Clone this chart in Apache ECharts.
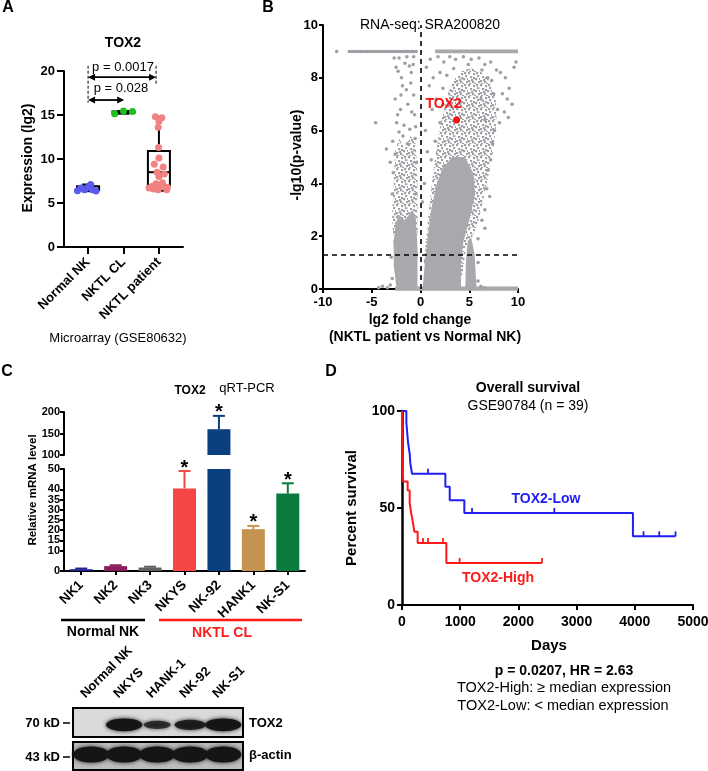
<!DOCTYPE html>
<html>
<head>
<meta charset="utf-8">
<title>TOX2 figure</title>
<script src="https://cdn.jsdelivr.net/npm/echarts@6.0.0/dist/echarts.min.js"></script>
<style>
html, body { margin: 0; padding: 0; background: #fff; }
#main { width: 708px; height: 771px; }
</style>
</head>
<body>
<div id="main"></div>
<script>
// ---- A: microarray TOX2 expression ----
var aCats = ['Normal NK', 'NKTL CL', 'NKTL patient'];
var aNormal = [[0.70, 6.4], [0.80, 6.7], [0.90, 6.5], [1.0, 6.8], [1.07, 7.1], [1.12, 6.5], [1.22, 6.35]];
var aCell = [[1.75, 15.15], [2.0, 15.45], [2.25, 15.4]];
var aPatient = [[2.9, 14.8], [3.08, 14.7], [3.0, 14.3], [2.98, 13.6], [2.99, 11.3], [3.0, 10.1], [2.87, 9.4],
  [3.12, 9.1], [2.95, 8.5], [3.15, 8.3], [2.92, 7.2], [3.1, 7.3], [3.05, 6.9], [2.82, 6.9], [2.72, 6.7],
  [3.22, 6.5], [2.98, 6.5], [2.85, 6.6], [3.24, 6.8], [3.0, 8.0]];
// x, min, q1, median, q3, max
var aBoxes = [[1, 6.35, 6.45, 6.6, 6.9, 7.1], [2, 15.15, 15.25, 15.35, 15.4, 15.45], [3, 6.4, 7.0, 8.5, 10.9, 14.8]];
// from, to, level
var aArrows = [[1, 2.92, 19.3], [1, 2.02, 16.7]];
// x, top, bottom
var aGuides = [[1, 20.6, 16.4], [2.92, 20.6, 18.5]];

// ---- B: volcano (dense areas as outlines, sparse genes as points) ----
var vLeftCore = [[-2.45, 0], [-2.75, 0.9], [-2.75, 1.8], [-2.55, 2.5], [-2.2, 2.8], [-1.6, 2.6], [-1.0, 2.9], [-0.5, 2.8], [-0.3, 1.5], [-0.32, 0]];
var vLeftMid = [[-2.75, 1.5], [-2.9, 2.8], [-2.75, 4.0], [-2.6, 5.2], [-2.2, 5.7], [-1.6, 5.3], [-1.0, 5.8], [-0.5, 5.5], [-0.3, 4.2], [-0.3, 2.0]];
var vRightCore = [[0.22, 0], [0.45, 1.0], [0.75, 2.0], [1.1, 3.0], [1.6, 3.9], [2.3, 4.6], [3.3, 5.0], [4.5, 5.0], [5.4, 4.4], [5.6, 3.6], [5.0, 2.6], [4.4, 1.8], [4.15, 1.0], [4.15, 0]];
var vRightMid = [[0.3, 0.8], [0.6, 2.0], [0.95, 3.3], [1.3, 4.4], [1.7, 5.5], [2.2, 6.5], [2.8, 7.4], [3.5, 8.0], [4.3, 8.3], [5.3, 8.35], [6.3, 8.2], [7.1, 7.9], [7.7, 7.3], [7.8, 6.4], [7.5, 5.3], [6.8, 4.0], [6.2, 3.0], [5.8, 2.4], [4.6, 1.4], [4.3, 0.5]];
var vRightStreak = [[4.6, 0], [4.65, 1.0], [4.85, 1.8], [5.2, 1.95], [5.55, 1.3], [5.75, 0]];
var vBottomStrip = [[-2.6, -0.07], [10, -0.07], [10, 0.09], [-2.6, 0.09]];
var vTopStrip = [[1.5, 8.93], [10, 8.93], [10, 9.07], [1.5, 9.07]];
var vPoints = [
  [-8.6, 9], [-7.3, 9], [-7.05, 9], [-6.8, 9], [-6.55, 9], [-6.3, 9], [-6.1, 9], [-5.85, 9], [-5.6, 9], [-5.4, 9],
  [-5.15, 9], [-4.9, 9], [-4.7, 9], [-4.45, 9], [-4.2, 9], [-4.0, 9], [-3.75, 9], [-3.5, 9], [-3.25, 9], [-3.0, 9],
  [-2.8, 9], [-2.55, 9], [-2.3, 9], [-2.1, 9], [-1.85, 9], [-1.6, 9], [-1.4, 9], [-1.15, 9], [-0.9, 9], [-0.7, 9], [-0.45, 9],
  [-2.5, 8.4], [-2.3, 8.25], [-1.95, 8.0], [-1.15, 8.45], [-0.95, 8.2], [-0.75, 8.5], [-1.85, 7.7], [-1.45, 7.55],
  [-2.6, 7.2], [-0.7, 7.35], [-1.3, 7.0], [-2.05, 6.8], [-0.6, 6.6], [-2.45, 6.3], [-1.7, 6.2], [-4.6, 6.3],
  [-2.2, 5.95], [-1.1, 6.05], [-0.5, 6.15], [-2.85, 5.6], [-1.8, 5.8], [-0.9, 6.7], [-2.7, 8.75], [-2.2, 8.75],
  [-1.4, 8.8], [-0.7, 8.8], [-1.6, 8.55], [-2.0, 7.35], [-1.0, 7.8], [-2.35, 6.6], [-0.55, 5.7], [-1.35, 5.5],
  [-2.6, 5.1], [-3.5, 5.3], [-3.1, 4.8],
  [1.0, 8.7], [1.8, 8.8], [2.4, 8.6], [3.0, 8.8], [3.6, 8.7], [4.4, 8.8], [5.2, 8.7], [6.0, 8.75], [6.6, 8.5],
  [7.2, 8.6], [7.8, 8.3], [8.2, 8.2], [8.7, 8.0], [9.1, 7.6], [9.6, 8.4], [8.9, 7.2], [9.4, 7.0], [8.4, 7.4],
  [7.9, 6.8], [8.1, 6.3], [7.6, 6.0], [7.4, 5.5], [6.9, 4.5], [7.1, 3.5], [6.6, 3.0], [0.9, 7.7], [1.2, 6.8],
  [0.5, 6.0], [1.6, 7.2], [0.7, 5.2], [2.3, 7.6], [2.0, 8.2], [1.3, 8.0], [0.4, 4.0], [5.9, 1.0], [6.6, 2.3],
  [0.2, 3.3], [8.6, 6.7], [9.0, 6.5], [7.5, 7.4], [3.4, 8.35], [4.9, 8.5], [2.7, 8.1], [6.3, 8.3], [0.6, 8.4], [9.8, 8.6],
  [-4.3, 0.05], [-3.9, 0.1], [-3.4, 0.05], [-3.1, 0.15], [6.2, 0.1], [6.6, 0.05], [5.9, 0.3],
  [1.1, 4.9], [1.5, 5.6], [2.0, 6.3], [2.3, 7.0], [7.3, 7.9], [6.9, 8.0], [6.2, 7.2], [6.6, 6.4], [7.2, 4.9], [6.8, 3.8],
  [6.3, 2.6], [5.9, 1.9], [-0.4, 4.8], [-2.9, 3.6], [-2.8, 4.4], [-0.5, 3.6], [-3.0, 1.2], [-2.9, 0.4]
];
var vTox2 = [[3.7, 6.4]];

// ---- C: qRT-PCR ----
var cCats = ['NK1', 'NK2', 'NK3', 'NKYS', 'NK-92', 'HANK1', 'NK-S1'];
var cMean = [0.9, 2.4, 1.7, 40.5, 160, 20.5, 38];
var cErr = [0.3, 0.4, 0.4, 8.5, 31, 1.6, 5];
var cSig = [0, 0, 0, 1, 1, 1, 1];
var cColors = ['#232390', '#8a1d5e', '#606060', '#f54545', '#0a3f80', '#c4934f', '#0b7a3e'];

// ---- C: western blot ----
var blotLanes = ['Normal NK', 'NKYS', 'HANK-1', 'NK-92', 'NK-S1'];
var blotTox2 = [0, 1, 0.45, 0.7, 1];
var blotActin = [1, 1, 1, 1, 1];

// ---- D: Kaplan-Meier ----
var kmLow = [[0, 100], [75, 94], [103, 84], [132, 78], [143, 73], [172, 67.6], [745, 61], [820, 54], [1071, 47.4], [3968, 35.4], [4700, 35.4]];
var kmLowCensor = [[447, 67.6], [1203, 47.4], [2617, 47.4], [4150, 35.4], [4420, 35.4], [4700, 35.4]];
var kmHigh = [[0, 100], [4, 90], [8, 82], [11, 75], [15, 70], [20, 63.7], [97, 59], [132, 52.5], [155, 47.8], [189, 42.3], [212, 37.7], [269, 32], [762, 21.7], [2405, 21.7]];
var kmHighCensor = [[361, 32], [447, 32], [705, 32], [991, 21.7], [2405, 21.7]];

var F = '"Liberation Sans", Arial, Helvetica, sans-serif';
function font(size, bold) { return (bold ? 'bold ' : '') + size + 'px ' + F; }

function ax(gridIndex, o) {
  var base = {
    gridIndex: gridIndex, type: 'value',
    axisLine: { show: true, onZero: false, lineStyle: { color: '#000', width: 2 } },
    axisTick: { show: true, length: 5, lineStyle: { color: '#000', width: 2 } },
    axisLabel: { color: '#000', fontWeight: 'bold', fontSize: 13, fontFamily: F, margin: 6,
      showMinLabel: true, showMaxLabel: true, hideOverlap: false },
    splitLine: { show: false }
  };
  for (var k in o) {
    if (base[k] && typeof base[k] === 'object' && typeof o[k] === 'object' && !Array.isArray(o[k])) {
      base[k] = Object.assign({}, base[k], o[k]);
    } else {
      base[k] = o[k];
    }
  }
  return base;
}

function txt(x, y, s, size, bold, color, rot, align) {
  return {
    type: 'text', x: x, y: y, rotation: rot || 0, silent: true,
    style: { text: s, font: font(size, bold), fill: color || '#000', align: align || 'center', verticalAlign: 'middle',
      textAlign: align || 'center', textVerticalAlign: 'middle' }
  };
}

function plain(v) { return String(v); }

// speckle texture for the moderately dense parts of the volcano cloud
function speckle(color) {
  var c = document.createElement('canvas');
  c.width = 12; c.height = 12;
  var ctx = c.getContext('2d');
  ctx.fillStyle = color;
  [[0, 0], [5, 1], [9, 3], [2, 4], [7, 6], [0, 8], [4, 9], [10, 9], [6, 11], [3, 7],
   [8, 0], [11, 6], [1, 11], [5, 5]].forEach(function (d) {
    ctx.fillRect(d[0], d[1], 2.2, 2.2);
  });
  return { image: c, repeat: 'repeat' };
}

function renderBox(params, api) {
  var x = api.value(0);
  var lo = api.coord([x, api.value(1)]), q1 = api.coord([x, api.value(2)]), md = api.coord([x, api.value(3)]);
  var q3 = api.coord([x, api.value(4)]), hi = api.coord([x, api.value(5)]);
  var hw = 11, cw = 6;
  var st = { stroke: '#000', lineWidth: 2, fill: 'transparent' };
  return { type: 'group', children: [
    { type: 'line', shape: { x1: lo[0], y1: lo[1], x2: q1[0], y2: q1[1] }, style: st },
    { type: 'line', shape: { x1: q3[0], y1: q3[1], x2: hi[0], y2: hi[1] }, style: st },
    { type: 'line', shape: { x1: hi[0] - cw, y1: hi[1], x2: hi[0] + cw, y2: hi[1] }, style: st },
    { type: 'line', shape: { x1: lo[0] - cw, y1: lo[1], x2: lo[0] + cw, y2: lo[1] }, style: st },
    { type: 'rect', shape: { x: q1[0] - hw, y: q3[1], width: hw * 2, height: q1[1] - q3[1] }, style: st },
    { type: 'line', shape: { x1: md[0] - hw, y1: md[1], x2: md[0] + hw, y2: md[1] }, style: st }
  ] };
}

function renderArrow(params, api) {
  var y = api.value(2);
  var p1 = api.coord([api.value(0), y]), p2 = api.coord([api.value(1), y]);
  var h = 3.5, L = 7;
  return { type: 'group', children: [
    { type: 'line', shape: { x1: p1[0] + 3, y1: p1[1], x2: p2[0] - 3, y2: p2[1] }, style: { stroke: '#000', lineWidth: 1.8 } },
    { type: 'polygon', shape: { points: [[p1[0], p1[1]], [p1[0] + L, p1[1] - h], [p1[0] + L, p1[1] + h]] }, style: { fill: '#000' } },
    { type: 'polygon', shape: { points: [[p2[0], p2[1]], [p2[0] - L, p2[1] - h], [p2[0] - L, p2[1] + h]] }, style: { fill: '#000' } }
  ] };
}

function renderGuide(params, api) {
  var a = api.coord([api.value(0), api.value(1)]), b = api.coord([api.value(0), api.value(2)]);
  return { type: 'line', shape: { x1: a[0], y1: a[1], x2: b[0], y2: b[1] }, style: { stroke: '#000', lineWidth: 1, lineDash: [3, 2] } };
}

function polySeries(verts, fill) {
  return {
    type: 'custom', xAxisIndex: 1, yAxisIndex: 1, data: verts, silent: true, z: 1,
    renderItem: function (params, api) {
      if (params.dataIndex !== 0) return null;
      var pts = verts.map(function (v) { return api.coord(v); });
      return { type: 'polygon', shape: { points: pts }, style: { fill: fill } };
    }
  };
}

function renderErr(params, api) {
  var i = api.value(0), m = api.value(1), e = api.value(2), sig = api.value(3);
  var base = api.coord([i, m]), top = api.coord([i, m + e]);
  var col = cColors[i];
  var kids = [
    { type: 'line', shape: { x1: base[0], y1: base[1], x2: top[0], y2: top[1] }, style: { stroke: col, lineWidth: 2 } },
    { type: 'line', shape: { x1: top[0] - 6, y1: top[1], x2: top[0] + 6, y2: top[1] }, style: { stroke: col, lineWidth: 2 } }
  ];
  if (sig) {
    kids.push({ type: 'text', style: { text: '*', x: top[0], y: top[1] - 3, font: font(20, true), fill: '#000',
      align: 'center', verticalAlign: 'middle', textAlign: 'center', textVerticalAlign: 'middle' } });
  }
  return { type: 'group', children: kids };
}

function errData(filter) {
  var out = [];
  cMean.forEach(function (m, i) { if (filter(m, cErr[i])) out.push([i, m, cErr[i], cSig[i]]); });
  return out;
}

function bandSeries(idx, signal, hScale, yMid, color) {
  return {
    type: 'custom', xAxisIndex: idx, yAxisIndex: idx, silent: true,
    data: signal.map(function (s, i) { return [i + 1, s]; }),
    renderItem: function (params, api) {
      var s = api.value(1);
      if (s <= 0) return null;
      var c = api.coord([api.value(0), yMid]);
      var lane = api.size([1, 0])[0];
      var gh = params.coordSys.height;
      return { type: 'ellipse', shape: { cx: c[0], cy: c[1], rx: lane * (0.3 + 0.25 * s), ry: gh * (0.08 + 0.14 * s) * hScale },
        style: { fill: color, opacity: 0.55 + 0.45 * s, shadowBlur: 4, shadowColor: color } };
    }
  };
}

var gridBase = { containLabel: false, outerBoundsMode: 'none' };
function g(o) { return Object.assign({}, gridBase, o); }

var dense = '#a8a8ad';
var speck = speckle('#a0a0a6');

var chart = echarts.init(document.getElementById('main'));
chart.setOption({
  animation: false,
  backgroundColor: '#fff',
  grid: [
    g({ left: 64, top: 71, width: 119, height: 176 }),
    g({ left: 323, top: 25, width: 195, height: 264 }),
    g({ left: 64, top: 412, width: 241, height: 43 }),
    g({ left: 64, top: 469, width: 241, height: 102 }),
    g({ left: 73, top: 708, width: 170, height: 29, show: true, backgroundColor: '#dadada', borderColor: '#000', borderWidth: 2 }),
    g({ left: 73, top: 742, width: 170, height: 28, show: true, backgroundColor: '#bcbcbc', borderColor: '#000', borderWidth: 2 }),
    g({ left: 402, top: 411, width: 291, height: 194 })
  ],
  xAxis: [
    ax(0, { min: 0.32, max: 3.68, axisTick: { customValues: [1, 2, 3], length: 7 },
      axisLabel: { customValues: [1, 2, 3], rotate: 45, fontSize: 13, margin: 13,
        formatter: function (v) { return aCats[Math.round(v) - 1]; } } }),
    ax(1, { min: -10, max: 10, interval: 5, axisTick: { length: 4 }, axisLabel: { margin: 7, formatter: plain } }),
    { gridIndex: 2, type: 'category', data: cCats, show: false },
    ax(3, { type: 'category', data: cCats, axisTick: { show: true, alignWithLabel: true, length: 4 },
      axisLabel: { rotate: 45, fontSize: 13.5, margin: 12, interval: 0 } }),
    { gridIndex: 4, type: 'value', min: 0.45, max: 5.6, position: 'top', axisLine: { show: false }, axisTick: { show: false },
      splitLine: { show: false },
      axisLabel: { customValues: [0.75, 1.75, 2.75, 3.75, 4.75], rotate: 45, margin: 12, color: '#000', fontWeight: 'bold',
        fontSize: 13, fontFamily: F, formatter: function (v) { return blotLanes[Math.round(v) - 1]; } } },
    { gridIndex: 5, type: 'value', min: 0.45, max: 5.6, show: false },
    ax(6, { min: 0, max: 5000, interval: 1000, axisLabel: { fontSize: 14, margin: 10, formatter: plain } })
  ],
  yAxis: [
    ax(0, { min: 0, max: 20, interval: 5, axisTick: { length: 7 }, axisLabel: { margin: 9 } }),
    ax(1, { min: 0, max: 10, interval: 2, axisTick: { length: 4 }, axisLabel: { margin: 5 } }),
    ax(2, { min: 100, max: 200, interval: 50, axisTick: { length: 4 }, axisLabel: { fontSize: 11, margin: 4 } }),
    ax(3, { min: 0, max: 50, interval: 5, axisTick: { length: 4 }, axisLabel: { fontSize: 11, margin: 4 } }),
    { gridIndex: 4, type: 'value', min: 0, max: 1, show: false },
    { gridIndex: 5, type: 'value', min: 0, max: 1, show: false },
    ax(6, { min: 0, max: 100, interval: 50, axisLine: { show: true, onZero: false, lineStyle: { color: '#000', width: 2.5 } },
      axisLabel: { fontSize: 14, margin: 7 } })
  ],
  series: [
    // A
    { type: 'custom', xAxisIndex: 0, yAxisIndex: 0, data: aBoxes, z: 2, renderItem: renderBox, encode: { x: 0, y: [1, 5] } },
    { type: 'scatter', xAxisIndex: 0, yAxisIndex: 0, data: aNormal, symbolSize: 7, itemStyle: { color: '#5a5aee', opacity: 1 }, z: 3 },
    { type: 'scatter', xAxisIndex: 0, yAxisIndex: 0, data: aCell, symbolSize: 7, itemStyle: { color: '#1ec01e', opacity: 1 }, z: 3 },
    { type: 'scatter', xAxisIndex: 0, yAxisIndex: 0, data: aPatient, symbolSize: 7, itemStyle: { color: '#f28282', opacity: 1 }, z: 3 },
    { type: 'custom', xAxisIndex: 0, yAxisIndex: 0, data: aArrows, clip: false, renderItem: renderArrow, z: 4 },
    { type: 'custom', xAxisIndex: 0, yAxisIndex: 0, data: aGuides, clip: false, renderItem: renderGuide, z: 4 },
    // B
    polySeries(vLeftMid, speck),
    polySeries(vRightMid, speck),
    polySeries(vLeftCore, dense),
    polySeries(vRightCore, dense),
    polySeries(vRightStreak, dense),
    polySeries(vBottomStrip, dense),
    polySeries(vTopStrip, dense),
    { type: 'scatter', xAxisIndex: 1, yAxisIndex: 1, data: vPoints, symbolSize: 3.5, itemStyle: { color: '#9d9da3', opacity: 1 }, z: 2,
      markLine: { silent: true, symbol: ['none', 'none'], label: { show: false },
        lineStyle: { color: '#000', type: [5, 4], width: 1.6 },
        data: [{ xAxis: 0 }, { yAxis: 1.3 }] } },
    { type: 'scatter', xAxisIndex: 1, yAxisIndex: 1, data: vTox2, symbolSize: 7, itemStyle: { color: '#ff1010', opacity: 1 }, z: 5,
      label: { show: true, position: 'top', distance: 5, offset: [-13, 0], formatter: 'TOX2', color: '#ff1010',
        fontWeight: 'bold', fontSize: 14, fontFamily: F } },
    // C
    { type: 'bar', xAxisIndex: 3, yAxisIndex: 3, barWidth: 23, z: 2,
      data: cMean.map(function (v, i) { return { value: v, itemStyle: { color: cColors[i] } }; }) },
    { type: 'bar', xAxisIndex: 2, yAxisIndex: 2, barWidth: 23, z: 2,
      data: cMean.map(function (v, i) { return { value: v, itemStyle: { color: cColors[i] } }; }) },
    { type: 'custom', xAxisIndex: 3, yAxisIndex: 3, renderItem: renderErr, z: 3,
      data: errData(function (m, e) { return m + e <= 50; }) },
    { type: 'custom', xAxisIndex: 2, yAxisIndex: 2, renderItem: renderErr, z: 3,
      data: errData(function (m) { return m >= 100; }) },
    // blot
    bandSeries(4, blotTox2, 1, 0.42, '#151515'),
    bandSeries(5, blotActin, 1.3, 0.55, '#151515'),
    // D
    { type: 'line', xAxisIndex: 6, yAxisIndex: 6, data: kmLow, step: 'end', symbol: 'none', z: 3,
      lineStyle: { color: '#1f1ff5', width: 2 } },
    { type: 'line', xAxisIndex: 6, yAxisIndex: 6, data: kmHigh, step: 'end', symbol: 'none', z: 3,
      lineStyle: { color: '#ff1a1a', width: 2 } },
    { type: 'scatter', xAxisIndex: 6, yAxisIndex: 6, data: kmLowCensor, symbol: 'rect', symbolSize: [1.8, 5], symbolOffset: [0, -2.5],
      itemStyle: { color: '#1f1ff5', opacity: 1 }, z: 4 },
    { type: 'scatter', xAxisIndex: 6, yAxisIndex: 6, data: kmHighCensor, symbol: 'rect', symbolSize: [1.8, 5], symbolOffset: [0, -2.5],
      itemStyle: { color: '#ff1a1a', opacity: 1 }, z: 4 }
  ],
  graphic: [
    txt(8, 8, 'A', 16, true),
    txt(123, 43, 'TOX2', 14, true),
    txt(123, 67, 'p = 0.0017', 13, false),
    txt(121, 88, 'p = 0.028', 13, false),
    txt(28, 158, 'Expression (lg2)', 14, true, '#000', Math.PI / 2),
    txt(118, 338, 'Microarray (GSE80632)', 13, false),
    txt(268, 8, 'B', 16, true),
    txt(430, 25, 'RNA-seq: SRA200820', 14, false),
    txt(297, 155, '-lg10(p-value)', 14, true, '#000', Math.PI / 2),
    txt(420, 320, 'lg2 fold change', 14, true),
    txt(425, 337, '(NKTL patient vs Normal NK)', 14, true),
    txt(7, 372, 'C', 16, true),
    txt(190, 391, 'TOX2', 12, true),
    txt(247, 388, 'qRT-PCR', 13, false),
    txt(33, 490, 'Relative mRNA level', 11.5, true, '#000', Math.PI / 2),
    { type: 'line', shape: { x1: 61, y1: 620, x2: 145, y2: 620 }, style: { stroke: '#000', lineWidth: 2.5 }, silent: true },
    { type: 'line', shape: { x1: 159, y1: 620, x2: 302, y2: 620 }, style: { stroke: '#ff1a1a', lineWidth: 2.5 }, silent: true },
    txt(103, 632, 'Normal NK', 14, true),
    txt(222, 633, 'NKTL CL', 14, true, '#ff1a1a'),
    txt(60, 723, '70 kD', 13, true, '#000', 0, 'right'),
    txt(60, 757, '43 kD', 13, true, '#000', 0, 'right'),
    { type: 'line', shape: { x1: 63, y1: 723, x2: 70, y2: 723 }, style: { stroke: '#000', lineWidth: 1.5 }, silent: true },
    { type: 'line', shape: { x1: 63, y1: 757, x2: 70, y2: 757 }, style: { stroke: '#000', lineWidth: 1.5 }, silent: true },
    txt(249, 723, 'TOX2', 13, true, '#000', 0, 'left'),
    txt(249, 755, 'β-actin', 13, true, '#000', 0, 'left'),
    txt(331, 372, 'D', 16, true),
    txt(528, 388, 'Overall survival', 14, true),
    txt(528, 406, 'GSE90784 (n = 39)', 14, false),
    txt(352, 508, 'Percent survival', 15, true, '#000', Math.PI / 2),
    txt(549, 646, 'Days', 15, true),
    txt(564, 671, 'p = 0.0207, HR = 2.63', 14, true),
    txt(564, 688, 'TOX2-High: ≥ median expression', 14.5, false),
    txt(563, 706, 'TOX2-Low: < median expression', 14.5, false),
    txt(546, 499, 'TOX2-Low', 14, true, '#1f1ff5'),
    txt(498, 578, 'TOX2-High', 14, true, '#ff1a1a')
  ]
});
</script>
</body>
</html>
